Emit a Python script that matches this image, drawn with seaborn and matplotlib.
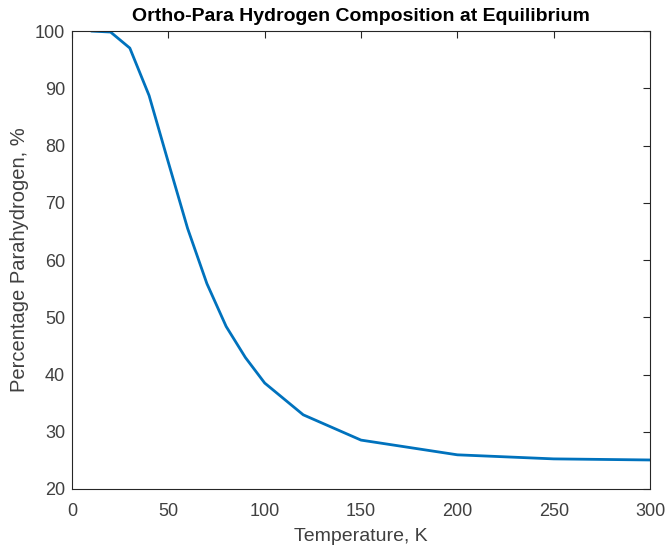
import matplotlib
matplotlib.use("Agg")
import matplotlib.pyplot as plt
import seaborn as sns
import pandas as pd

# Equilibrium parahydrogen fraction vs temperature
TEMPERATURE_K = [10, 20, 30, 40, 50, 60, 70, 80, 90, 100, 120, 150, 200, 250, 300]
PARA_PERCENT = [99.99, 99.82, 97.02, 88.73, 77.05, 65.51, 55.88, 48.39, 42.96,
                38.51, 32.96, 28.54, 25.97, 25.26, 25.07]

X_TICKS = [0, 50, 100, 150, 200, 250, 300]
Y_TICKS = [20, 30, 40, 50, 60, 70, 80, 90, 100]

AXIS_COLOR = "#262626"
LABEL_COLOR = "#404040"


def main():
    sns.set_style("white")
    plt.rcParams["font.family"] = ["Liberation Sans", "DejaVu Sans"]

    df = pd.DataFrame({"T": TEMPERATURE_K, "para": PARA_PERCENT})

    fig = plt.figure(figsize=(6.65, 5.46), dpi=100)
    ax = fig.add_axes([0.1083, 0.1044, 0.8692, 0.8388])

    sns.lineplot(data=df, x="T", y="para", ax=ax, color="#0072BD",
                 linewidth=2.0)

    ax.set_xlim(0, 300)
    ax.set_ylim(20, 100)
    ax.set_xticks(X_TICKS)
    ax.set_yticks(Y_TICKS)

    for side in ["top", "right", "bottom", "left"]:
        ax.spines[side].set_visible(True)
        ax.spines[side].set_color(AXIS_COLOR)
        ax.spines[side].set_linewidth(0.8)

    ax.tick_params(direction="in", length=5, width=0.8, top=True, right=True,
                   color=AXIS_COLOR, labelcolor=LABEL_COLOR, labelsize=13)
    ax.tick_params(axis="x", pad=10)
    ax.tick_params(axis="y", pad=5)

    ax.set_xlabel("Temperature, K", fontsize=14, color=LABEL_COLOR, labelpad=6)
    ax.set_ylabel("Percentage Parahydrogen, %", fontsize=14.5,
                  color=LABEL_COLOR, labelpad=4)
    ax.set_title("Ortho-Para Hydrogen Composition at Equilibrium",
                 fontsize=14, fontweight="bold", color="black", pad=7)

    fig.savefig("out.png", dpi=100)
    plt.close(fig)


if __name__ == "__main__":
    main()
